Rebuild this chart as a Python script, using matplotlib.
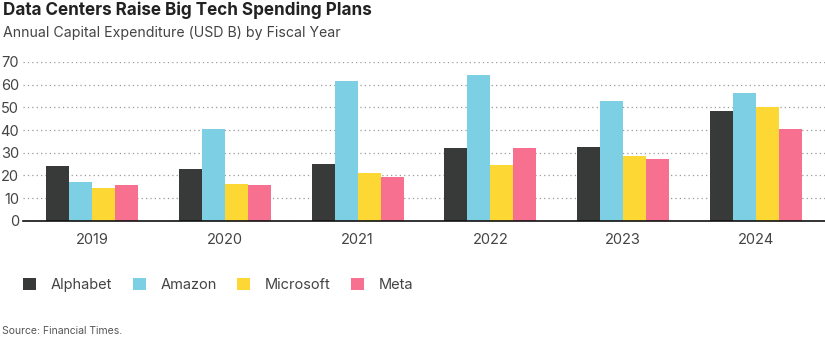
import numpy as np
import matplotlib.pyplot as plt
from matplotlib.patches import Patch

plt.rcParams['font.family'] = ['Inter', 'DejaVu Sans']

# data (USD B)
years = ['2019', '2020', '2021', '2022', '2023', '2024']
companies = ['Alphabet', 'Amazon', 'Microsoft', 'Meta']
alphabet = [24.0, 22.7, 25.1, 31.9, 32.7, 48.5]
amazon = [17.2, 40.6, 61.5, 64.2, 53.0, 56.4]
microsoft = [14.6, 16.1, 20.9, 24.4, 28.4, 50.3]
meta = [15.6, 15.6, 19.3, 31.9, 27.3, 40.6]
yticks = [0, 10, 20, 30, 40, 50, 60, 70]

colors = ['#373a38', '#7dcfe4', '#fdd835', '#f7708f']
series = [alphabet, amazon, microsoft, meta]

fig = plt.figure(figsize=(8.25, 3.54), dpi=100)
ax = fig.add_axes([0.028, 0.376, 0.972, 0.449])

x = np.arange(len(years))
w = 0.173
for i, (vals, c) in enumerate(zip(series, colors)):
    ax.bar(x + (i - 1.5) * w, vals, width=w, color=c, zorder=3)

ax.set_xlim(-0.52, 5.52)
ax.set_ylim(0, 70)
ax.set_yticks(yticks)
ax.set_xticks(x)
ax.set_xticklabels(years)
ax.yaxis.grid(True, linestyle=(0, (1, 2.5)), color='#999999', linewidth=0.9, zorder=0)
for s in ['top', 'right', 'left']:
    ax.spines[s].set_visible(False)
ax.spines['bottom'].set_color('#111111')
ax.spines['bottom'].set_linewidth(1.2)
ax.spines['bottom'].set_zorder(4)
ax.tick_params(axis='both', length=0, labelsize=10.5, colors='#444444')
ax.tick_params(axis='x', pad=9)
ax.tick_params(axis='y', pad=3)

fig.text(0.004, 0.972, 'Data Centers Raise Big Tech Spending Plans', fontsize=12.3,
         fontweight='bold', color='#222222', va='center', ha='left')
fig.text(0.004, 0.906, 'Annual Capital Expenditure (USD B) by Fiscal Year', fontsize=10.2,
         color='#444444', va='center', ha='left')

handles = [Patch(facecolor=c, edgecolor='none') for c in colors]
fig.legend(handles, companies, loc='center left', bbox_to_anchor=(0.012, 0.195), ncol=4,
           frameon=False, fontsize=10.5, handlelength=0.9, handleheight=0.9,
           handletextpad=1.0, columnspacing=1.4, labelcolor='#444444')

fig.text(0.002, 0.065, 'Source: Financial Times.', fontsize=7.5, color='#555555',
         va='center', ha='left')

fig.savefig('out.png', dpi=100, facecolor='white')
